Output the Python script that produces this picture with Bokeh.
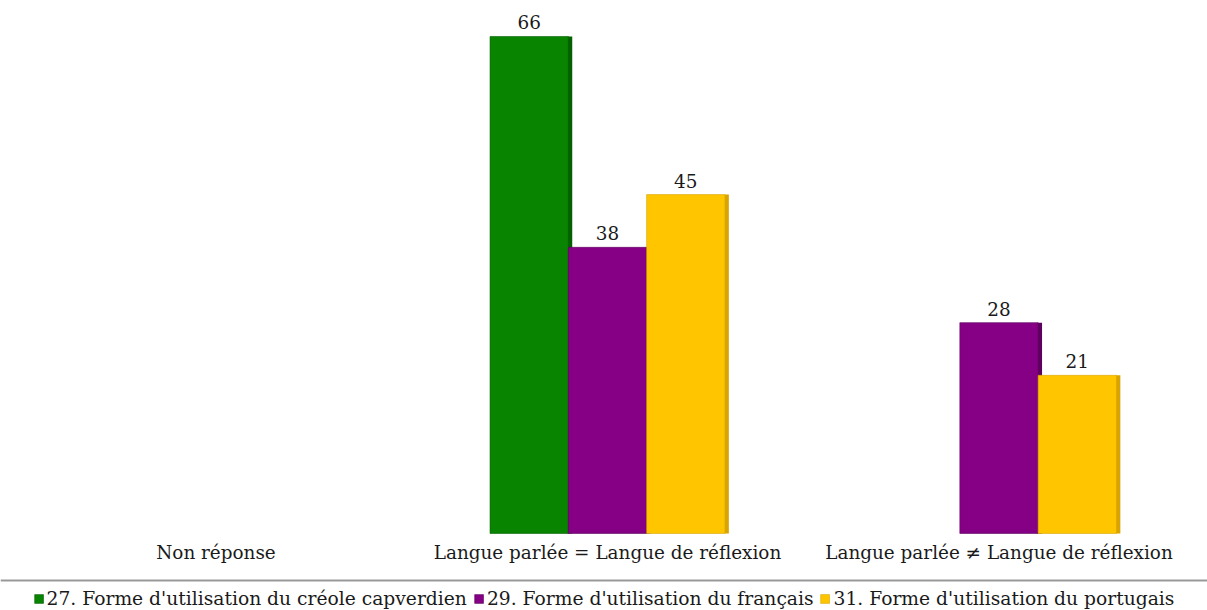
from bokeh.plotting import figure
from bokeh.models import Range1d, Legend, LegendItem, ColumnDataSource, Span
from bokeh.transform import dodge
from bokeh.core.properties import value
from bokeh.embed import file_html
from bokeh.resources import INLINE

categories = ["Non réponse",
              "Langue parlée = Langue de réflexion",
              "Langue parlée \u2260 Langue de réflexion"]
series_names = ["27. Forme d'utilisation du créole capverdien",
                "29. Forme d'utilisation du français",
                "31. Forme d'utilisation du portugais"]
creole = [0, 66, 0]
francais = [0, 38, 28]
portugais = [0, 45, 21]

colors = ["#088400", "#850085", "#ffc600"]
dark = ["#056000", "#5e005e", "#d9a400"]
FONT = "DejaVu Serif"
FS = "18.4px"
FS_LEG = "18.7px"
TXT = "#1a1a1a"

xs = [i + 0.5 for i in range(len(categories))]
series = [creole, francais, portugais]
offsets = [-0.2, 0.0, 0.2]
bar_w = 0.2

p = figure(width=1207, height=610, output_backend="svg",
           toolbar_location=None, x_range=Range1d(-0.0504, 3.0326),
           y_range=Range1d(-10.23, 70.78), x_axis_location=None,
           y_axis_location=None, min_border=0)
p.outline_line_color = None
p.xgrid.visible = False
p.ygrid.visible = False
p.background_fill_color = "white"

# side strips (3D effect) drawn first
for vals, off, dc in zip(series, offsets, dark):
    src = ColumnDataSource(dict(
        x=[x for x, v in zip(xs, vals) if v > 0],
        top=[v for v in vals if v > 0]))
    p.vbar(x=dodge("x", off + bar_w / 2 + 0.004, range=p.x_range), top="top",
           width=0.012, source=src, fill_color=dc, line_color=None)

renderers = []
for vals, off, c, dc in zip(series, offsets, colors, dark):
    src = ColumnDataSource(dict(
        x=[x for x, v in zip(xs, vals) if v > 0],
        top=[v for v in vals if v > 0],
        lab=[str(v) for v in vals if v > 0]))
    r = p.vbar(x=dodge("x", off, range=p.x_range), top="top", width=bar_w,
               source=src, fill_color=c, line_color=dc, line_width=0.6)
    renderers.append(r)
    p.text(x=dodge("x", off, range=p.x_range), y="top", text="lab", source=src,
           text_align="center", text_baseline="bottom", y_offset=-7,
           text_font=value(FONT), text_font_size=FS, text_color=TXT)

# category labels under the baseline
cat_src = ColumnDataSource(dict(x=xs, y=[0] * len(xs), t=categories))
p.text(x="x", y="y", text="t", source=cat_src, text_align="center",
       text_baseline="middle", y_offset=19, text_font=value(FONT),
       text_font_size=FS, text_color=TXT)

# separator line above the legend
p.add_layout(Span(location=-6.24, dimension="width", line_color="#999999",
                  line_width=2))

legend = Legend(items=[LegendItem(label=n, renderers=[r])
                       for n, r in zip(series_names, renderers)],
                orientation="horizontal", location="bottom",
                glyph_width=11, glyph_height=11, label_standoff=3, spacing=6,
                padding=0, margin=1, border_line_color=None,
                background_fill_alpha=0,
                label_text_font=FONT, label_text_font_size=FS_LEG,
                label_text_color=TXT, label_height=18)
p.add_layout(legend)

open("out.html", "w").write(file_html(p, INLINE))
